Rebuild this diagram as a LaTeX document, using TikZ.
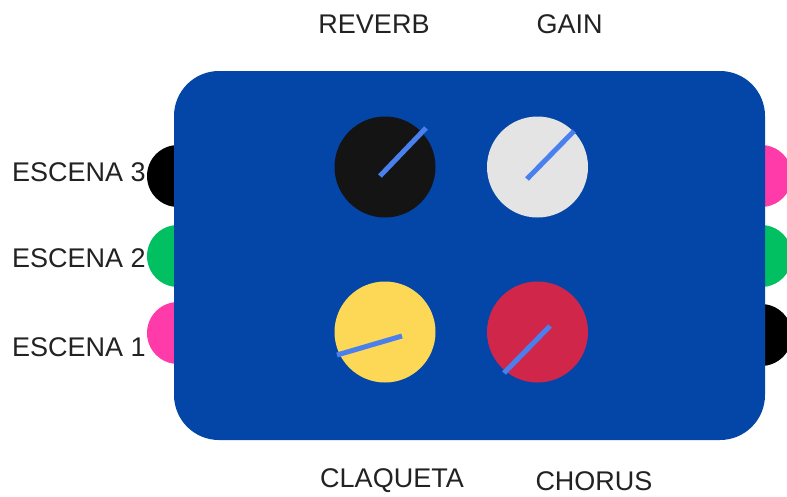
\documentclass[tikz,border=0pt]{standalone}
\usepackage{fontspec}
\setmainfont{Liberation Sans}
\definecolor{boxblue}{HTML}{0446A8}
\definecolor{needle}{HTML}{4A80EE}
\definecolor{knobblack}{HTML}{141414}
\definecolor{knobwhite}{HTML}{E4E4E4}
\definecolor{knobyellow}{HTML}{FDD857}
\definecolor{knobred}{HTML}{D0264A}
\definecolor{portpink}{HTML}{FF3BAA}
\definecolor{portgreen}{HTML}{00C062}
\definecolor{portblack}{HTML}{000000}
\definecolor{labeltext}{HTML}{222222}
\begin{document}
\begin{tikzpicture}[x=1pt,y=-1pt,
  port/.style={circle,inner sep=0pt,minimum size=62pt,fill=#1},
  knob/.style={circle,inner sep=0pt,minimum size=101pt,fill=#1},
  needleline/.style={draw=needle,line width=5pt},
  lbl/.style={text=labeltext,font=\fontsize{27}{30}\selectfont,inner sep=0pt}]
\useasboundingbox (0,0) rectangle (787,496);
% side ports
\node[port=portblack] (p3l) at (178,176) {};
\node[port=portgreen] (p2l) at (178,256) {};
\node[port=portpink] (p1l) at (178,333) {};
\node[port=portpink] (p1r) at (761,176) {};
\node[port=portgreen] (p2r) at (761,256) {};
\node[port=portblack] (p3r) at (761,335) {};
% main box
\node[fill=boxblue,rounded corners=45pt,minimum width=591pt,minimum height=369pt,inner sep=0pt] (box) at (469.5,255.5) {};
% knobs
\node[knob=knobblack] (reverb) at (385,167) {};
\node[knob=knobwhite] (gain) at (537.5,167) {};
\node[knob=knobyellow] (claq) at (385,332) {};
\node[knob=knobred] (chorus) at (537.5,332) {};
\draw[needleline] (380,176) -- (426,128);
\draw[needleline] (527,179) -- (574,131);
\draw[needleline] (337,355) -- (402,336);
\draw[needleline] (504,373) -- (550,326);
% labels
\node[lbl] (lreverb) at (374,24) {REVERB};
\node[lbl] (lgain) at (569.5,24) {GAIN};
\node[lbl] (lclaq) at (392,481) {CLAQUETA};
\node[lbl] (lchorus) at (594,481) {CHORUS};
\node[lbl,anchor=west] (l3) at (12,172) {ESCENA 3};
\node[lbl,anchor=west] (l2) at (12,258) {ESCENA 2};
\node[lbl,anchor=west] (l1) at (12,347) {ESCENA 1};
\end{tikzpicture}
\end{document}
